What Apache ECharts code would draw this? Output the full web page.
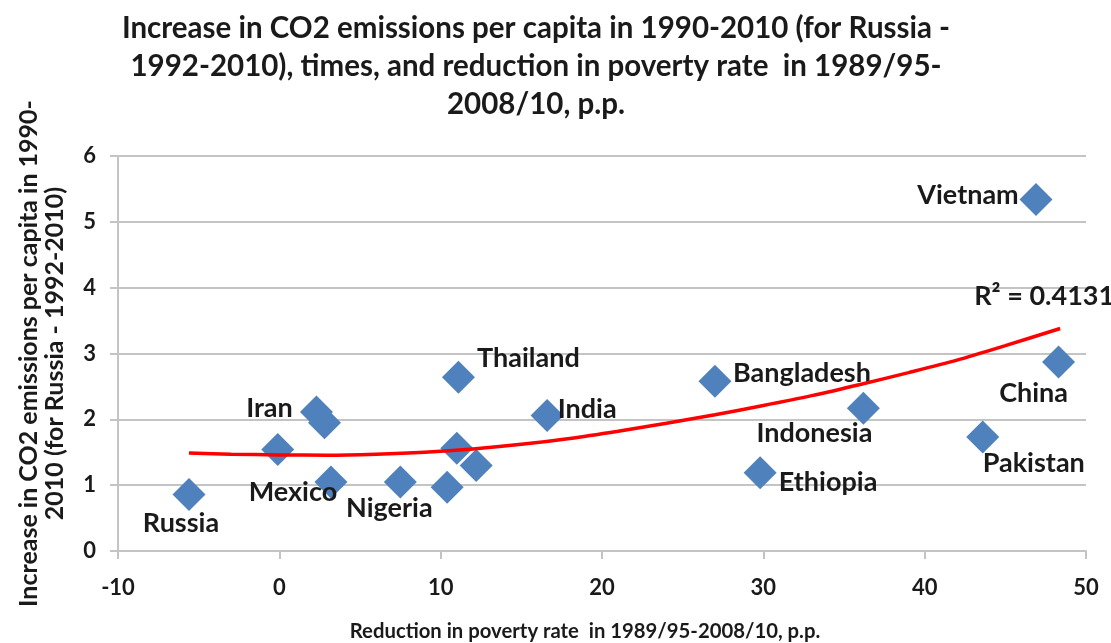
<!DOCTYPE html>
<html>
<head>
<meta charset="utf-8">
<script src="https://cdn.jsdelivr.net/npm/echarts@6/dist/echarts.min.js"></script>
<style>
html,body{margin:0;padding:0;background:#fff;}
#chart{width:1111px;height:643px;}
</style>
</head>
<body>
<div id="chart"></div>
<script>
// ---- data ----
const countries = ['Russia', '', 'Iran', '', 'Mexico', 'Nigeria', '', 'Thailand', '', '', 'India', 'Bangladesh', 'Ethiopia', 'Indonesia', 'Pakistan', 'Vietnam', 'China'];
const povertyReduction = [-5.6, -0.1, 2.3, 2.8, 3.2, 7.5, 10.4, 11.1, 11.0, 12.2, 16.6, 27.0, 29.8, 36.2, 43.6, 46.9, 48.3];
const co2Increase = [0.86, 1.54, 2.11, 1.95, 1.05, 1.05, 0.97, 2.64, 1.56, 1.30, 2.06, 2.58, 1.19, 2.17, 1.73, 5.34, 2.87];
// polynomial trend line as drawn in the picture
const trendX = [-5.6, -3, 0, 3, 6, 9, 12, 15, 18, 21, 24, 27, 30, 33, 36, 39, 42, 45, 48.4];
const trendY = [1.49, 1.47, 1.46, 1.455, 1.47, 1.50, 1.55, 1.62, 1.71, 1.82, 1.94, 2.07, 2.21, 2.36, 2.53, 2.71, 2.90, 3.12, 3.38];
const rSquaredText = 'R² = 0.4131';
const titleText = 'Increase in CO2 emissions per capita in 1990-2010 (for Russia -\n1992-2010), times, and reduction in poverty rate  in 1989/95-\n2008/10, p.p.';
const xAxisTitle = 'Reduction in poverty rate  in 1989/95-2008/10, p.p.';
const yAxisTitle = 'Increase in CO2 emissions per capita in 1990-\n2010 (for Russia - 1992-2010)';
const xTicks = [-10, 0, 10, 20, 30, 40, 50];
const yTicks = [0, 1, 2, 3, 4, 5, 6];

// ---- styling (label offsets from point centre, px) ----
const labelOffsets = {
  'Russia': [-8, 29], 'Mexico': [-38, 10], 'Iran': [-47, -4], 'Nigeria': [-11, 26],
  'Thailand': [70, -19], 'India': [40, -6], 'Bangladesh': [87, -8], 'Indonesia': [-49, 25],
  'Ethiopia': [68, 10], 'Vietnam': [-68, -4], 'China': [-25, 31], 'Pakistan': [51, 26]
};
const FONT = 'Lato';
const TEXT = '#1a1a1a';
const labelFont = { fontFamily: FONT, fontWeight: 'bold', fontSize: 27, color: TEXT, opacity: 1, textBorderWidth: 0 };

const scatterData = povertyReduction.map((x, i) => {
  const name = countries[i];
  const item = { value: [x, co2Increase[i]], name: name };
  if (name && labelOffsets[name]) {
    item.label = Object.assign({ show: true, position: 'inside', offset: labelOffsets[name], formatter: name }, labelFont);
  }
  return item;
});
const trendData = trendX.map((x, i) => ({ value: [x, trendY[i]] }));
trendData[trendData.length - 1].label = Object.assign({ show: true, position: 'inside', offset: [-16, -32], formatter: rSquaredText }, labelFont);

const chart = echarts.init(document.getElementById('chart'), null, { renderer: 'canvas' });
chart.setOption({
  backgroundColor: '#ffffff',
  animation: false,
  graphic: [{
    type: 'text', left: 536 - 420, top: 9, z: 10,
    style: { text: titleText, width: 840, align: 'center', x: 420, textAlign: 'center', fontFamily: FONT, fontWeight: 'bold', fontSize: 29.5, lineHeight: 38, fill: TEXT }
  }],
  grid: { left: 118, right: 25, top: 156, bottom: 92, containLabel: false, outerBoundsMode: 'none' },
  xAxis: {
    type: 'value', min: xTicks[0], max: xTicks[xTicks.length - 1], interval: 10,
    name: xAxisTitle,
    nameLocation: 'middle', nameGap: 70,
    nameTextStyle: { fontFamily: FONT, fontWeight: 'bold', fontSize: 20.3, color: TEXT, padding: [0, 34, 0, 0] },
    axisLine: { show: true, onZero: false, lineStyle: { color: '#c4c4c4', width: 2 } },
    axisTick: { show: true, length: 8, lineStyle: { color: '#c4c4c4', width: 2 } },
    axisLabel: { fontFamily: FONT, fontWeight: 'bold', fontSize: 22, color: TEXT, margin: 26 },
    splitLine: { show: false }
  },
  yAxis: {
    type: 'value', min: yTicks[0], max: yTicks[yTicks.length - 1], interval: 1,
    name: yAxisTitle,
    nameLocation: 'middle', nameRotate: 90, nameGap: 50,
    nameTextStyle: { fontFamily: FONT, fontWeight: 'bold', fontSize: 25, lineHeight: 26, color: TEXT },
    axisLine: { show: true, onZero: false, lineStyle: { color: '#c4c4c4', width: 2 } },
    axisTick: { show: true, length: 8, lineStyle: { color: '#c4c4c4', width: 2 } },
    axisLabel: { fontFamily: FONT, fontWeight: 'bold', fontSize: 22, color: TEXT, margin: 22 },
    splitLine: { show: true, lineStyle: { color: '#c4c4c4', width: 2 } }
  },
  series: [
    {
      type: 'scatter', name: 'countries', data: scatterData,
      symbol: 'diamond', symbolSize: 33,
      itemStyle: { color: '#4f81bd', opacity: 1 }, z: 2
    },
    {
      type: 'line', name: 'trend', data: trendData, smooth: 0.3,
      showSymbol: true, symbol: 'circle', symbolSize: 1,
      itemStyle: { color: 'rgba(255,0,0,0)' },
      lineStyle: { color: '#ff0000', width: 3.5 }, z: 3
    }
  ]
});
</script>
</body>
</html>
